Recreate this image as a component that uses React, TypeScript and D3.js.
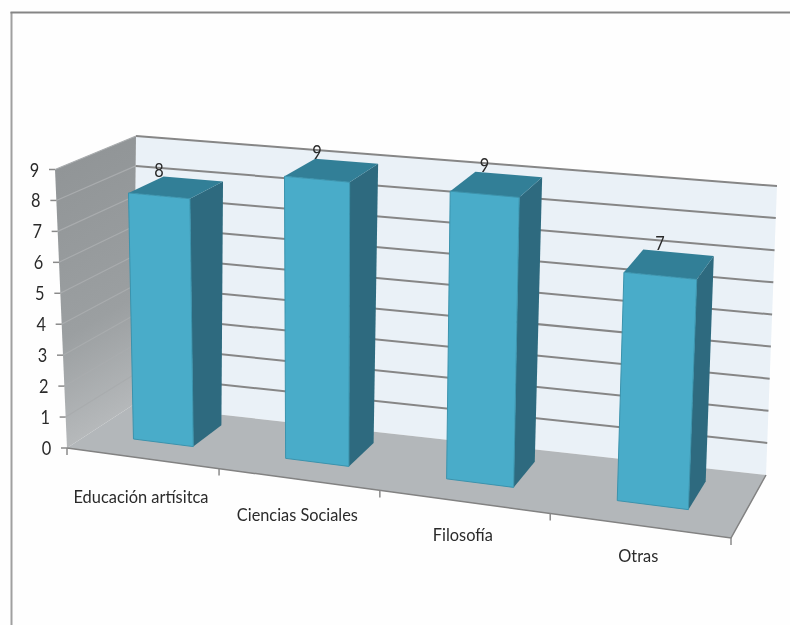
import React from "react";
import * as d3 from "d3";

const categories = ["Educación artísitca", "Ciencias Sociales", "Filosofía", "Otras"];
const values = [8, 9, 9, 7];
const yTicks = [0, 1, 2, 3, 4, 5, 6, 7, 8, 9];

type Pt = [number, number];

// corners of the two horizontal planes: (front-left, front-right, back-right, back-left)
function plane(q: Pt[]) {
  const [a, b, c, d] = q;
  return (w: number, z: number): Pt => {
    const fx = a[0] + (b[0] - a[0]) * w, fy = a[1] + (b[1] - a[1]) * w;
    const bx = d[0] + (c[0] - d[0]) * w, by = d[1] + (c[1] - d[1]) * w;
    return [fx + (bx - fx) * z, fy + (by - fy) * z];
  };
}

const floorPlane = plane([[67, 448], [731, 538], [766, 475], [133, 405]]);
const ceilPlane = plane([[55, 169.5], [744, 235.5], [777, 186], [136, 136]]);

// foreshortening along the category axis
const G = -0.109;
const warp = (u: number) => ((1 + G) * u) / (1 + G * u);

const yScale = d3.scaleLinear().domain([0, 9]).range([0, 1]);
const xBand = d3.scaleBand<string>().domain(categories).range([0, 1]).paddingInner(0.6).paddingOuter(0.3);
const catScale = d3.scaleBand<string>().domain(categories).range([0, 1]);
const BAR_Z0 = 0.34;
const BAR_Z1 = 0.8;

function P(x: number, v: number, z: number): Pt {
  const w = warp(x);
  const b = floorPlane(w, z);
  const t = ceilPlane(w, z);
  const k = yScale(v);
  return [b[0] + (t[0] - b[0]) * k, b[1] + (t[1] - b[1]) * k];
}
const line = d3.line<Pt>();
const poly = (pts: Pt[]) => line(pts)! + "Z";

const fontFamily = "Lato, 'Open Sans', sans-serif";
const labelDrop = d3.scaleLinear().domain([0, 3]).range([44.5, 36.5]);
const labelWidths = [135, 121, 60, 40];

export default function App() {
  return (
    <svg width={790} height={625} style={{ position: "absolute", left: 0, top: 0, display: "block", background: "#fefefe" }}>
      <defs>
        <linearGradient id="lw" x1="0" y1="0" x2="0.15" y2="1">
          <stop offset="0" stopColor="#8f9395" />
          <stop offset="0.65" stopColor="#9b9fa1" />
          <stop offset="1" stopColor="#b6b9bb" />
        </linearGradient>
        <filter id="soft"><feGaussianBlur stdDeviation="0.45" /></filter>
      </defs>
      <path d="M11.5 626V12" fill="none" stroke="#a0a0a0" strokeWidth={2} />
      <path d="M10.5 12.5H790" fill="none" stroke="#858585" strokeWidth={2} />
      <g filter="url(#soft)">
        {/* back wall */}
        <path d={poly([P(0, 0, 1), P(1, 0, 1), P(1, 9, 1), P(0, 9, 1)])} fill="#eaf1f7" />
        {/* left wall */}
        <path d={poly([P(0, 0, 0), P(0, 0, 1), P(0, 9, 1), P(0, 9, 0)])} fill="url(#lw)" />
        {/* floor */}
        <path d={poly([P(0, 0, 0), P(1, 0, 0), P(1, 0, 1), P(0, 0, 1)])} fill="#b3b7ba" />
        <path d={line([P(0, 0, 0), P(1, 0, 0), P(1, 0, 1)])!} fill="none" stroke="#828282" strokeWidth={1.5} />
        {yTicks.slice(1).map((t) => (
          <path key={t} d={line([P(0, t, 1), P(1, t, 1)])!} fill="none" stroke="#868686" strokeWidth={2} />
        ))}
        {yTicks.slice(1).map((t) => (
          <path key={t} d={line([P(0, t, 0), P(0, t, 1)])!} fill="none" stroke="#a9acae" strokeWidth={1.2} />
        ))}
        {yTicks.map((t) => {
          const [x, y] = P(0, t, 0);
          return <path key={t} d={`M${x - 6} ${y}H${x}`} stroke="#8a8a8a" strokeWidth={1.5} />;
        })}
        {[0, ...categories.map((c) => catScale(c)! + catScale.bandwidth())].map((u, i) => {
          const [x, y] = P(u, 0, 0);
          return <path key={i} d={`M${x} ${y}V${y + 7}`} stroke="#8a8a8a" strokeWidth={1.5} />;
        })}
        {/* bars */}
        {categories.map((c, i) => {
          const x0 = xBand(c)!;
          const x1 = x0 + xBand.bandwidth();
          const v = values[i];
          return (
            <g key={c}>
              <path d={poly([P(x1, 0, BAR_Z0), P(x1, 0, BAR_Z1), P(x1, v, BAR_Z1), P(x1, v, BAR_Z0)])} fill="#2e6b7f" />
              <path d={poly([P(x0, v, BAR_Z0), P(x1, v, BAR_Z0), P(x1, v, BAR_Z1), P(x0, v, BAR_Z1)])} fill="#337f97" />
              <path d={poly([P(x0, 0, BAR_Z0), P(x1, 0, BAR_Z0), P(x1, v, BAR_Z0), P(x0, v, BAR_Z0)])} fill="#4aacc9" stroke="#3a93ad" strokeWidth={1} />
            </g>
          );
        })}
        {/* data labels */}
        {categories.map((c, i) => {
          const x0 = xBand(c)!;
          const [px] = P(x0 + xBand.bandwidth() / 2, values[i], BAR_Z0);
          const [, py] = P(x0, values[i], BAR_Z1);
          return (
            <text key={c} x={px} y={py} textAnchor="middle" fontFamily={fontFamily} fontSize={19} fill="#2b2b2b"
              textLength={9.5} lengthAdjust="spacingAndGlyphs">
              {values[i]}
            </text>
          );
        })}
        {/* y labels */}
        {yTicks.map((t) => {
          const [x, y] = P(0, t, 0);
          return (
            <text key={t} x={x - 20.5} y={y + 7} textAnchor="middle" fontFamily={fontFamily} fontSize={19} fill="#2b2b2b"
              textLength={9.5} lengthAdjust="spacingAndGlyphs">
              {t}
            </text>
          );
        })}
        {/* category labels */}
        {categories.map((c, i) => {
          const [x, y] = P(catScale(c)! + catScale.bandwidth() / 2, 0, 0);
          return (
            <text key={c} x={x - 1} y={y + labelDrop(i)} textAnchor="middle" fontFamily={fontFamily} fontSize={18} fill="#2b2b2b"
              textLength={labelWidths[i]} lengthAdjust="spacingAndGlyphs">
              {c}
            </text>
          );
        })}
      </g>
    </svg>
  );
}
